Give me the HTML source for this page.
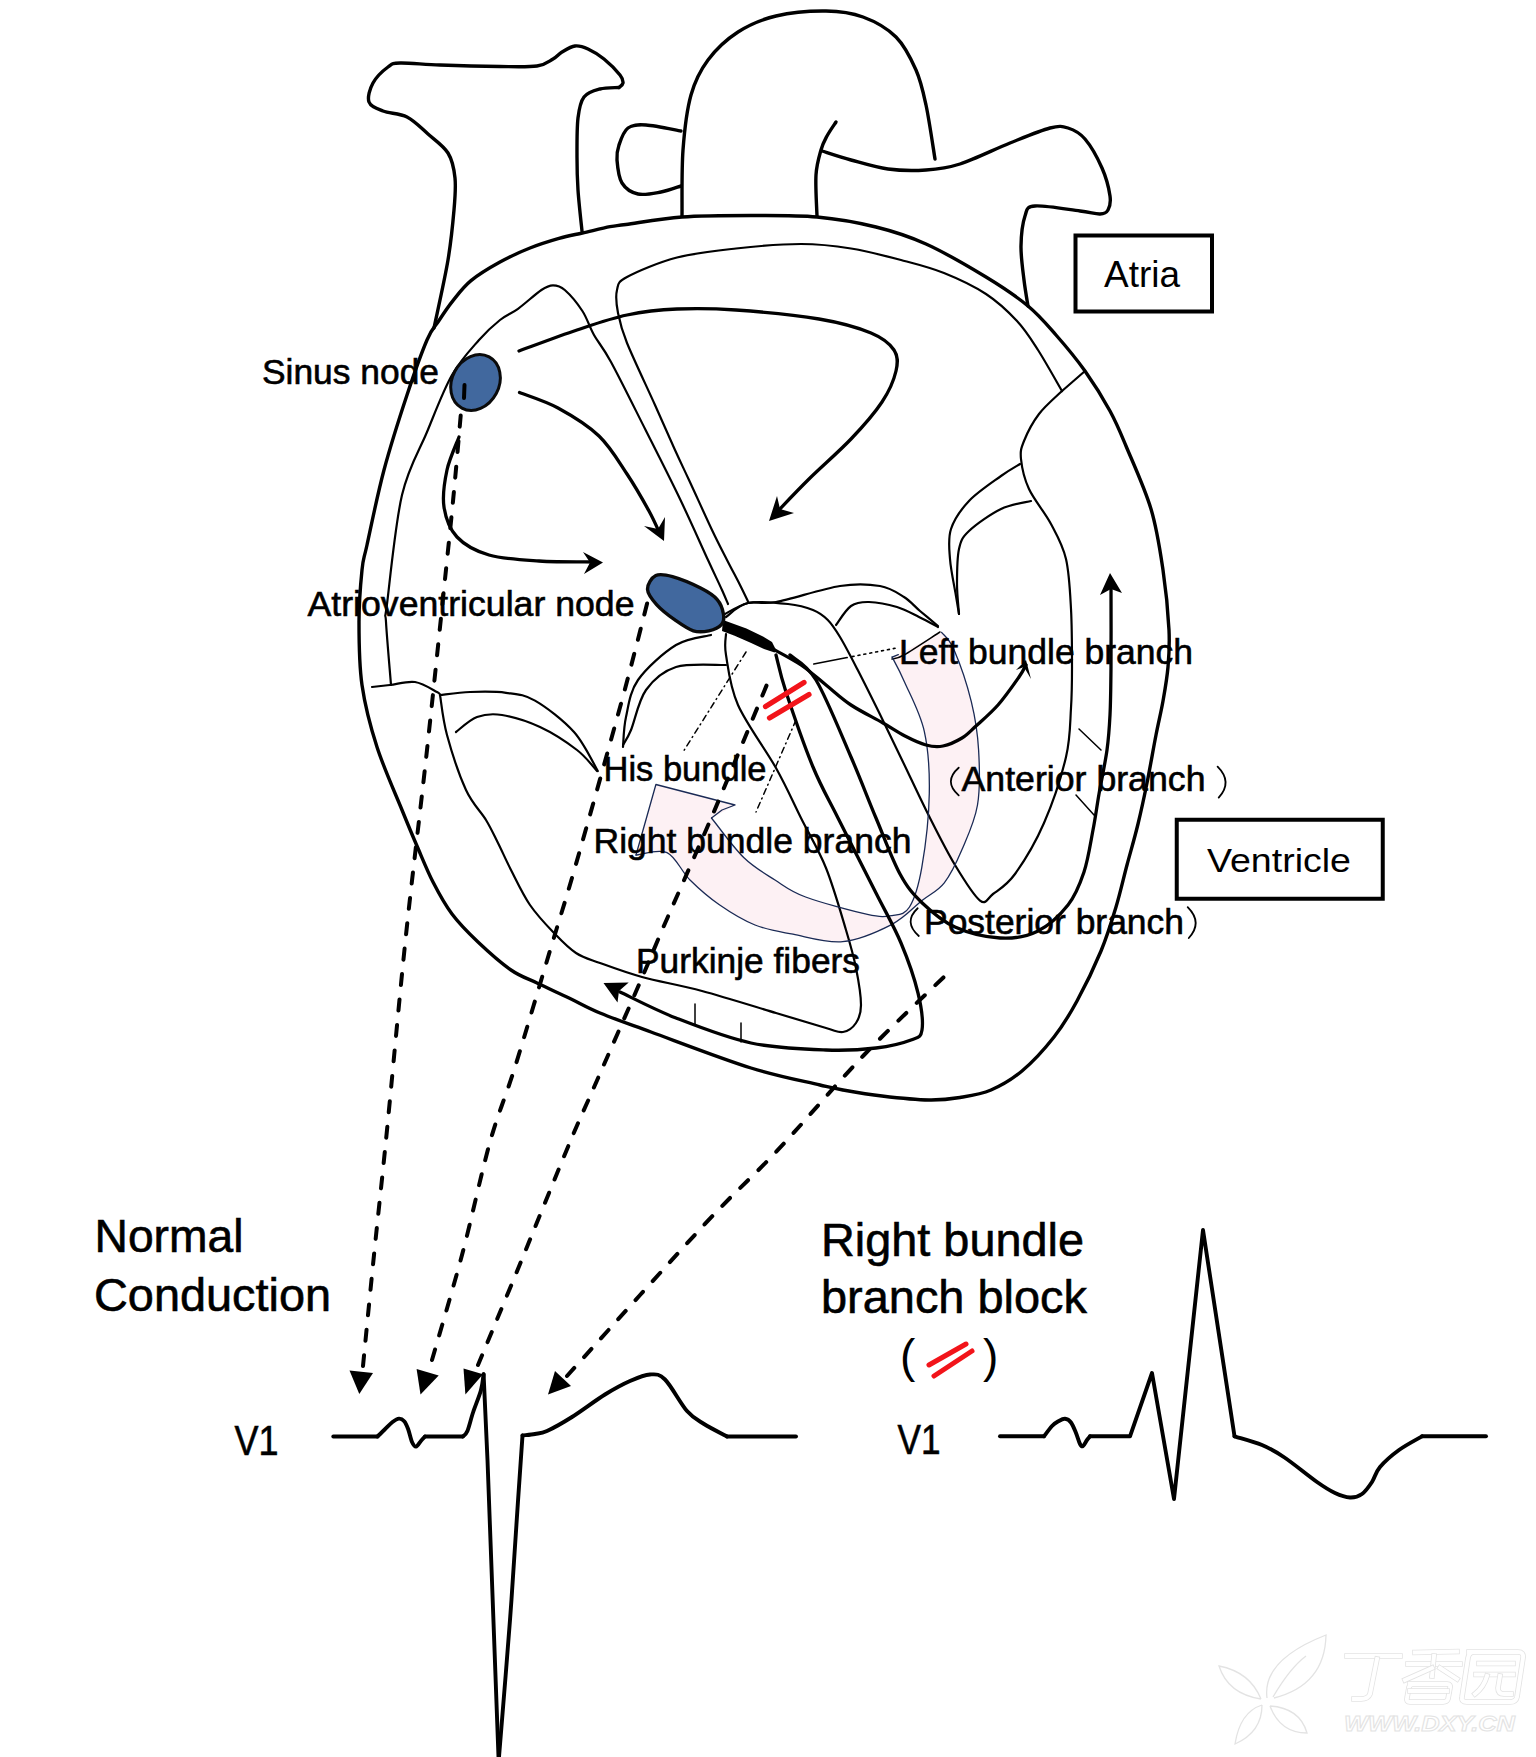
<!DOCTYPE html>
<html><head><meta charset="utf-8"><style>
html,body{margin:0;padding:0;background:#fff;}
body{width:1536px;height:1757px;overflow:hidden;}
svg{display:block;}
text{font-family:"Liberation Sans",sans-serif;fill:#000;}
</style></head><body>
<svg width="1536" height="1757" viewBox="0 0 1536 1757">
<path d="M636.0 855.0 C641.2 854.6 658.0 848.4 667.0 852.6 C676.0 856.8 681.3 871.4 690.0 880.0 C698.7 888.6 708.2 897.0 719.0 904.5 C729.8 912.0 742.7 920.0 755.0 925.0 C767.3 930.0 778.4 931.4 793.0 934.2 C807.6 937.0 826.2 943.2 842.7 941.6 C859.2 940.0 878.8 931.1 892.0 924.3 C905.2 917.4 913.3 907.4 922.0 900.5 C930.7 893.6 937.6 891.3 944.3 882.8 C951.0 874.3 956.5 862.6 962.0 849.6 C967.5 836.6 974.7 821.6 977.5 805.0 C980.3 788.4 979.6 767.2 978.6 750.0 C977.6 732.8 975.4 718.3 971.3 701.6 C967.2 684.9 959.0 661.2 954.0 649.7 C949.0 638.2 943.7 635.3 941.6 632.4 L892.1 657.1 C894.2 661.2 899.1 669.5 904.5 681.9 C909.9 694.3 920.2 712.8 924.3 731.3 C928.4 749.8 929.7 770.5 929.3 793.2 C928.9 815.9 925.1 848.4 921.8 867.4 C918.5 886.4 914.5 899.0 909.5 907.0 C904.5 915.0 899.0 914.4 892.0 915.6 C885.0 916.8 881.8 917.5 867.4 914.4 C853.0 911.3 821.0 902.7 805.6 897.0 C790.2 891.3 785.3 886.6 775.0 880.0 C764.7 873.4 754.3 867.8 743.7 857.5 C733.1 847.2 716.9 824.6 711.5 818.0 Z" fill="#fdf1f4"/>
<path d="M655.9 784.5 L736 805 L711.5 818 L690 830 L636 855 Z" fill="#fdf1f4"/>
<path d="M582.0 231.0 C581.3 224.2 578.8 202.3 578.0 190.0 C577.2 177.7 577.0 169.0 577.0 157.0 C577.0 145.0 576.8 128.0 578.0 118.0 C579.2 108.0 580.3 101.8 584.0 97.0 C587.7 92.2 594.2 90.6 600.0 89.0 C605.8 87.4 615.8 87.8 619.0 87.5" fill="none" stroke="#000" stroke-width="3.4" stroke-linecap="round" stroke-linejoin="round" />
<path d="M619.0 87.5 C619.7 86.8 622.8 85.1 623.0 83.0 C623.2 80.9 623.2 79.0 620.0 75.0 C616.8 71.0 609.3 63.3 604.0 59.0 C598.7 54.7 592.8 51.2 588.0 49.0 C583.2 46.8 579.3 45.5 575.0 46.0 C570.7 46.5 565.7 49.8 562.0 52.0 C558.3 54.2 557.2 56.7 553.0 59.0 C548.8 61.3 545.8 64.8 537.0 66.0 C528.2 67.2 516.2 66.7 500.0 66.5 C483.8 66.3 456.7 65.6 440.0 65.0 C423.3 64.4 408.7 62.7 400.0 63.0 C391.3 63.3 392.5 63.7 388.0 67.0 C383.5 70.3 376.2 77.2 373.0 83.0 C369.8 88.8 367.3 97.3 369.0 102.0 C370.7 106.7 376.7 108.5 383.0 111.0 C389.3 113.5 399.5 113.2 407.0 117.0 C414.5 120.8 421.2 128.0 428.0 134.0 C434.8 140.0 443.5 145.7 448.0 153.0 C452.5 160.3 454.0 168.5 455.0 178.0 C456.0 187.5 455.2 196.3 454.0 210.0 C452.8 223.7 451.3 240.3 448.0 260.0 C444.7 279.7 436.3 316.7 434.0 328.0" fill="none" stroke="#000" stroke-width="3.4" stroke-linecap="round" stroke-linejoin="round" />
<path d="M682.0 216.0 C682.2 205.0 681.5 170.2 683.0 150.0 C684.5 129.8 686.8 110.0 691.0 95.0 C695.2 80.0 700.2 70.5 708.0 60.0 C715.8 49.5 726.7 39.3 738.0 32.0 C749.3 24.7 761.3 19.5 776.0 16.0 C790.7 12.5 811.5 10.8 826.0 11.0 C840.5 11.2 851.3 12.7 863.0 17.0 C874.7 21.3 887.2 28.2 896.0 37.0 C904.8 45.8 911.0 58.7 916.0 70.0 C921.0 81.3 922.8 90.2 926.0 105.0 C929.2 119.8 933.5 150.0 935.0 159.0" fill="none" stroke="#000" stroke-width="3.4" stroke-linecap="round" stroke-linejoin="round" />
<path d="M836.0 122.0 C834.5 124.3 829.5 131.3 827.0 136.0 C824.5 140.7 822.8 143.5 821.0 150.0 C819.2 156.5 816.7 164.0 816.0 175.0 C815.3 186.0 816.8 209.2 817.0 216.0" fill="none" stroke="#000" stroke-width="3.4" stroke-linecap="round" stroke-linejoin="round" />
<path d="M822.0 151.0 C826.8 152.5 840.0 157.0 851.0 160.0 C862.0 163.0 875.5 167.3 888.0 169.0 C900.5 170.7 914.0 170.8 926.0 170.0 C938.0 169.2 946.0 168.5 960.0 164.0 C974.0 159.5 995.0 149.0 1010.0 143.0 C1025.0 137.0 1040.3 130.5 1050.0 128.0 C1059.7 125.5 1062.2 126.2 1068.0 128.0 C1073.8 129.8 1079.3 132.3 1085.0 139.0 C1090.7 145.7 1097.8 158.5 1102.0 168.0 C1106.2 177.5 1109.0 189.0 1110.0 196.0 C1111.0 203.0 1109.7 207.0 1108.0 210.0 C1106.3 213.0 1104.7 213.8 1100.0 214.0 C1095.3 214.2 1090.8 212.3 1080.0 211.0 C1069.2 209.7 1044.2 205.2 1035.0 206.0 C1025.8 206.8 1027.3 209.3 1025.0 216.0 C1022.7 222.7 1021.2 235.3 1021.0 246.0 C1020.8 256.7 1022.8 270.0 1024.0 280.0 C1025.2 290.0 1027.3 301.7 1028.0 306.0" fill="none" stroke="#000" stroke-width="3.4" stroke-linecap="round" stroke-linejoin="round" />
<path d="M681.0 131.0 C675.2 130.0 654.8 125.5 646.0 125.0 C637.2 124.5 632.5 124.7 628.0 128.0 C623.5 131.3 620.8 139.7 619.0 145.0 C617.2 150.3 616.5 153.7 617.0 160.0 C617.5 166.3 618.5 177.3 622.0 183.0 C625.5 188.7 631.5 192.5 638.0 194.0 C644.5 195.5 653.8 193.3 661.0 192.0 C668.2 190.7 677.7 187.0 681.0 186.0" fill="none" stroke="#000" stroke-width="3.4" stroke-linecap="round" stroke-linejoin="round" />
<path d="M453.0 300.6 C458.3 294.0 463.2 287.0 471.0 280.6 C478.8 274.2 490.2 267.4 500.0 262.0 C509.8 256.6 520.2 251.9 530.0 248.0 C539.8 244.1 550.3 240.9 559.0 238.4 C567.7 235.9 573.9 234.9 582.4 233.0 C590.9 231.1 602.7 228.1 610.0 226.7 C617.3 225.3 614.0 226.1 626.0 224.5 C638.0 222.9 661.2 218.5 682.0 217.0 C702.8 215.5 728.5 215.5 751.0 215.5 C773.5 215.5 796.2 215.1 817.0 217.0 C837.8 218.9 857.8 222.5 876.0 227.0 C894.2 231.5 907.7 235.7 926.0 244.0 C944.3 252.3 969.0 266.7 986.0 277.0 C1003.0 287.3 1016.3 296.3 1028.0 306.0 C1039.7 315.7 1046.5 324.2 1056.0 335.0 C1065.5 345.8 1076.0 358.3 1085.0 371.0 C1094.0 383.7 1103.2 398.5 1110.0 411.0 C1116.8 423.5 1119.2 429.7 1126.0 446.0 C1132.8 462.3 1144.8 488.3 1151.0 509.0 C1157.2 529.7 1160.0 549.8 1163.0 570.0 C1166.0 590.2 1168.2 613.8 1169.0 630.0 C1169.8 646.2 1169.0 655.2 1168.0 667.0 C1167.0 678.8 1165.0 689.7 1163.0 701.0 C1161.0 712.3 1158.7 721.3 1156.0 735.0 C1153.3 748.7 1150.0 768.2 1147.0 783.0 C1144.0 797.8 1141.3 810.3 1138.0 824.0 C1134.7 837.7 1130.7 851.2 1127.0 865.0 C1123.3 878.8 1120.3 892.7 1116.0 907.0 C1111.7 921.3 1107.5 935.3 1101.0 951.0 C1094.5 966.7 1084.8 986.7 1077.0 1001.0 C1069.2 1015.3 1063.2 1025.3 1054.0 1037.0 C1044.8 1048.7 1032.5 1062.2 1022.0 1071.0 C1011.5 1079.8 1001.3 1085.6 991.0 1090.0 C980.7 1094.4 970.3 1095.8 960.0 1097.5 C949.7 1099.2 942.0 1100.2 929.0 1100.0 C916.0 1099.8 896.3 1097.7 882.0 1096.0 C867.7 1094.3 853.3 1091.8 843.0 1090.0 C832.7 1088.2 835.3 1088.7 820.0 1085.0 C804.7 1081.3 779.2 1076.8 751.0 1068.0 C722.8 1059.2 676.2 1041.2 651.0 1032.0 C625.8 1022.8 613.7 1018.7 600.0 1013.0 C586.3 1007.3 579.5 1003.0 569.0 998.0 C558.5 993.0 546.7 987.7 537.0 983.0 C527.3 978.3 520.8 976.8 511.0 970.0 C501.2 963.2 487.8 951.3 478.0 942.0 C468.2 932.7 459.5 924.0 452.0 914.0 C444.5 904.0 438.8 893.3 433.0 882.0 C427.2 870.7 422.2 858.0 417.0 846.0 C411.8 834.0 408.7 826.5 402.0 810.0 C395.3 793.5 383.7 767.8 377.0 747.0 C370.3 726.2 365.0 705.8 362.0 685.0 C359.0 664.2 359.0 641.2 359.0 622.0 C359.0 602.8 360.7 582.8 362.0 570.0 C363.3 557.2 363.3 561.7 367.0 545.0 C370.7 528.3 377.3 495.0 384.0 470.0 C390.7 445.0 399.8 416.7 407.0 395.0 C414.2 373.3 421.7 352.4 427.0 340.0 C432.3 327.6 434.7 327.1 439.0 320.5 C443.3 313.9 447.7 307.2 453.0 300.6Z" fill="none" stroke="#000" stroke-width="3.4" stroke-linecap="round" stroke-linejoin="round" />
<path d="M519.0 351.0 C528.7 347.5 559.0 336.0 577.0 330.0 C595.0 324.0 610.3 318.5 627.0 315.0 C643.7 311.5 658.8 309.8 677.0 309.0 C695.2 308.2 712.3 308.3 736.0 310.0 C759.7 311.7 796.5 315.2 819.0 319.0 C841.5 322.8 858.5 327.8 871.0 333.0 C883.5 338.2 889.8 343.7 894.0 350.0 C898.2 356.3 898.0 362.3 896.0 371.0 C894.0 379.7 889.5 390.7 882.0 402.0 C874.5 413.3 863.2 426.2 851.0 439.0 C838.8 451.8 821.5 466.7 809.0 479.0 C796.5 491.3 781.5 507.3 776.0 513.0" fill="none" stroke="#000" stroke-width="3.3" stroke-linecap="round" stroke-linejoin="round" />
<path d="M769.0 521.0 L777.0 496.0 L780.0 509.0 L794.0 513.0Z" fill="#000"/>
<path d="M519.5 392.5 C525.9 395.1 544.8 400.8 558.0 408.0 C571.2 415.2 587.5 425.0 599.0 436.0 C610.5 447.0 618.7 461.5 627.0 474.0 C635.3 486.5 643.5 501.0 649.0 511.0 C654.5 521.0 658.2 530.2 660.0 534.0" fill="none" stroke="#000" stroke-width="3.3" stroke-linecap="round" stroke-linejoin="round" />
<path d="M664.0 541.0 L644.0 526.0 L658.0 529.0 L665.0 517.0Z" fill="#000"/>
<path d="M459.0 437.0 C457.0 442.5 449.5 458.3 447.0 470.0 C444.5 481.7 442.3 495.8 444.0 507.0 C445.7 518.2 449.5 529.0 457.0 537.0 C464.5 545.0 475.3 551.0 489.0 555.0 C502.7 559.0 521.0 559.8 539.0 561.0 C557.0 562.2 587.3 561.8 597.0 562.0" fill="none" stroke="#000" stroke-width="3.3" stroke-linecap="round" stroke-linejoin="round" />
<path d="M603.0 562.5 L583.0 552.0 L590.0 562.5 L584.0 574.0Z" fill="#000"/>
<path d="M748.5 602.5 C747.1 599.6 743.6 592.1 740.0 585.0 C736.4 577.9 731.7 569.2 727.0 560.0 C722.3 550.8 718.3 543.3 712.0 530.0 C705.7 516.7 695.2 493.3 689.0 480.0 C682.8 466.7 680.7 462.5 675.0 450.0 C669.3 437.5 663.0 422.8 655.0 405.0 C647.0 387.2 633.2 358.3 627.0 343.0 C620.8 327.7 619.7 321.8 618.0 313.0 C616.3 304.2 615.5 296.0 617.0 290.0 C618.5 284.0 617.0 282.4 627.0 277.0 C637.0 271.6 658.8 262.2 677.0 257.5 C695.2 252.8 715.3 250.8 736.0 248.5 C756.7 246.2 781.8 244.0 801.0 244.0 C820.2 244.0 834.3 245.8 851.0 248.5 C867.7 251.2 885.5 255.9 901.0 260.0 C916.5 264.1 929.8 267.3 944.0 273.0 C958.2 278.7 973.8 286.0 986.0 294.0 C998.2 302.0 1008.3 311.7 1017.0 321.0 C1025.7 330.3 1030.5 338.3 1038.0 350.0 C1045.5 361.7 1058.0 384.2 1062.0 391.0" fill="none" stroke="#000" stroke-width="2.2" stroke-linecap="round" stroke-linejoin="round" />
<path d="M1085.0 371.0 C1081.2 374.3 1065.8 387.7 1062.0 391.0" fill="none" stroke="#000" stroke-width="2.2" stroke-linecap="round" stroke-linejoin="round" />
<path d="M1062.0 391.0 C1058.2 394.8 1045.3 405.7 1039.0 414.0 C1032.7 422.3 1027.0 433.5 1024.0 441.0 C1021.0 448.5 1020.2 451.0 1021.0 459.0 C1021.8 467.0 1024.0 478.2 1029.0 489.0 C1034.0 499.8 1044.8 512.3 1051.0 524.0 C1057.2 535.7 1062.7 544.8 1066.0 559.0 C1069.3 573.2 1070.0 591.0 1071.0 609.0 C1072.0 627.0 1072.0 650.5 1072.0 667.0 C1072.0 683.5 1072.0 693.0 1071.0 708.0 C1070.0 723.0 1070.5 737.8 1066.0 757.0 C1061.5 776.2 1052.5 803.5 1044.0 823.0 C1035.5 842.5 1023.5 862.2 1015.0 874.0 C1006.5 885.8 998.8 889.6 993.0 894.0 C987.2 898.4 986.3 905.3 980.0 900.5 C973.7 895.7 963.5 879.1 955.0 865.0 C946.5 850.9 937.7 833.2 929.0 816.0 C920.3 798.8 911.2 779.0 903.0 762.0 C894.8 745.0 887.4 729.4 879.8 714.0 C872.2 698.6 864.1 682.3 857.5 669.5 C850.9 656.7 845.0 645.2 840.0 637.0 C835.0 628.8 832.3 624.5 827.8 620.0 C823.3 615.5 819.6 612.7 813.0 610.0 C806.4 607.3 798.8 605.2 788.0 604.0 C777.2 602.8 758.3 600.8 748.0 603.0 C737.7 605.2 729.7 614.7 726.0 617.0" fill="none" stroke="#000" stroke-width="2.2" stroke-linecap="round" stroke-linejoin="round" />
<path d="M1020.0 464.0 C1016.8 466.0 1009.5 469.8 1001.0 476.0 C992.5 482.2 977.3 492.2 969.0 501.0 C960.7 509.8 954.2 519.3 951.0 529.0 C947.8 538.7 949.2 547.8 950.0 559.0 C950.8 570.2 954.5 586.8 956.0 596.0 C957.5 605.2 958.5 611.0 959.0 614.0" fill="none" stroke="#000" stroke-width="2.2" stroke-linecap="round" stroke-linejoin="round" />
<path d="M1031.0 501.0 C1026.0 502.3 1011.3 504.0 1001.0 509.0 C990.7 514.0 976.0 524.3 969.0 531.0 C962.0 537.7 961.0 540.2 959.0 549.0 C957.0 557.8 957.0 573.2 957.0 584.0 C957.0 594.8 958.7 609.0 959.0 614.0" fill="none" stroke="#000" stroke-width="2.2" stroke-linecap="round" stroke-linejoin="round" />
<path d="M391.0 685.0 C390.2 674.5 386.7 635.5 386.0 622.0 C385.3 608.5 384.3 625.2 387.0 604.0 C389.7 582.8 395.3 523.7 402.0 495.0 C408.7 466.3 418.7 452.0 427.0 432.0 C435.3 412.0 443.3 390.3 452.0 375.0 C460.7 359.7 471.0 349.2 479.0 340.0 C487.0 330.8 493.5 325.2 500.0 320.0 C506.5 314.8 511.1 313.8 518.0 308.8 C524.9 303.8 535.6 293.9 541.4 290.0 C547.2 286.1 549.1 285.3 553.0 285.3 C556.9 285.3 559.9 285.7 564.8 290.0 C569.7 294.3 577.5 303.5 582.4 311.0 C587.3 318.5 589.2 326.5 594.0 335.0 C598.8 343.5 602.4 346.2 611.0 362.0 C619.6 377.8 634.1 407.2 645.6 430.0 C657.1 452.8 669.6 477.3 680.0 499.0 C690.4 520.7 701.0 544.8 708.0 560.0 C715.0 575.2 718.7 582.7 722.0 590.0 C725.3 597.3 727.0 601.7 728.0 604.0" fill="none" stroke="#000" stroke-width="2.2" stroke-linecap="round" stroke-linejoin="round" />
<path d="M372.0 687.0 C375.0 686.7 382.8 685.8 390.0 685.0 C397.2 684.2 407.2 680.8 415.0 682.0 C422.8 683.2 432.8 689.8 437.0 692.0 C441.2 694.2 439.5 694.5 440.0 695.0" fill="none" stroke="#000" stroke-width="2.2" stroke-linecap="round" stroke-linejoin="round" />
<path d="M440.0 695.0 C441.2 701.7 442.7 719.2 447.0 735.0 C451.3 750.8 459.5 775.8 466.0 790.0 C472.5 804.2 480.7 811.2 486.0 820.0 C491.3 828.8 493.8 834.7 498.0 843.0 C502.2 851.3 505.7 859.7 511.0 870.0 C516.3 880.3 522.8 894.5 530.0 905.0 C537.2 915.5 546.3 925.0 554.0 933.0 C561.7 941.0 568.3 948.0 576.0 953.0 C583.7 958.0 589.0 959.0 600.0 963.0 C611.0 967.0 625.0 972.3 642.0 977.0 C659.0 981.7 679.7 985.0 702.0 991.0 C724.3 997.0 755.3 1006.8 776.0 1013.0 C796.7 1019.2 814.8 1024.8 826.0 1028.0 C837.2 1031.2 838.0 1032.8 843.0 1032.0 C848.0 1031.2 853.0 1027.5 856.0 1023.0 C859.0 1018.5 861.0 1014.2 861.0 1005.0 C861.0 995.8 858.5 980.5 856.0 968.0 C853.5 955.5 851.0 946.7 846.0 930.0 C841.0 913.3 833.5 886.7 826.0 868.0 C818.5 849.3 809.3 834.7 801.0 818.0 C792.7 801.3 786.5 786.8 776.0 768.0 C765.5 749.2 746.3 723.8 738.0 705.0 C729.7 686.2 728.0 666.8 726.0 655.0 C724.0 643.2 726.0 637.5 726.0 634.0" fill="none" stroke="#000" stroke-width="2.2" stroke-linecap="round" stroke-linejoin="round" />
<path d="M440.0 695.0 C445.0 694.5 459.0 692.4 470.0 692.0 C481.0 691.6 495.2 691.3 506.0 692.8 C516.8 694.2 523.7 694.1 535.0 700.6 C546.3 707.1 563.5 720.3 574.0 732.0 C584.5 743.7 593.8 764.5 597.8 771.0" fill="none" stroke="#000" stroke-width="2.2" stroke-linecap="round" stroke-linejoin="round" />
<path d="M456.0 732.0 C459.5 729.5 469.3 719.8 477.0 717.0 C484.7 714.2 491.5 713.3 502.0 715.0 C512.5 716.7 527.5 721.2 540.0 727.0 C552.5 732.8 567.5 742.7 577.0 750.0 C586.5 757.3 593.7 767.5 597.0 771.0" fill="none" stroke="#000" stroke-width="2.2" stroke-linecap="round" stroke-linejoin="round" />
<path d="M711.0 635.0 C705.2 636.7 688.2 637.5 676.0 645.0 C663.8 652.5 646.3 668.0 638.0 680.0 C629.7 692.0 628.5 705.8 626.0 717.0 C623.5 728.2 623.5 742.0 623.0 747.0" fill="none" stroke="#000" stroke-width="2.2" stroke-linecap="round" stroke-linejoin="round" />
<path d="M726.0 665.0 C717.7 665.3 689.3 662.8 676.0 667.0 C662.7 671.2 653.5 679.5 646.0 690.0 C638.5 700.5 634.8 720.8 631.0 730.0 C627.2 739.2 624.3 742.5 623.0 745.0" fill="none" stroke="#000" stroke-width="2.2" stroke-linecap="round" stroke-linejoin="round" />
<path d="M723.0 615.0 C727.2 613.0 739.2 605.2 748.0 603.0 C756.8 600.8 760.7 604.8 776.0 602.0 C791.3 599.2 822.7 588.7 840.0 586.0 C857.3 583.3 869.3 584.2 880.0 586.0 C890.7 587.8 897.3 592.8 904.0 597.0 C910.7 601.2 914.3 606.2 920.0 611.0 C925.7 615.8 935.0 623.5 938.0 626.0" fill="none" stroke="#000" stroke-width="2.2" stroke-linecap="round" stroke-linejoin="round" />
<path d="M836.0 625.0 C838.5 621.8 845.5 609.8 851.0 606.0 C856.5 602.2 861.3 601.8 869.0 602.0 C876.7 602.2 888.7 604.5 897.0 607.0 C905.3 609.5 912.2 613.7 919.0 617.0 C925.8 620.3 934.8 625.3 938.0 627.0" fill="none" stroke="#000" stroke-width="2.2" stroke-linecap="round" stroke-linejoin="round" />
<path d="M940.0 632.0 C934.0 635.8 912.0 650.5 904.0 655.0 C896.0 659.5 894.0 658.3 892.0 659.0" fill="none" stroke="#000" stroke-width="1.5" stroke-linecap="round" stroke-linejoin="round" />
<path d="M695.0 1004.0 L695.0 1024.0" fill="none" stroke="#000" stroke-width="1.5" stroke-linecap="round" stroke-linejoin="round" />
<path d="M741.0 1023.0 L741.0 1042.0" fill="none" stroke="#000" stroke-width="1.5" stroke-linecap="round" stroke-linejoin="round" />
<path d="M1079.0 729.0 L1101.0 750.0" fill="none" stroke="#000" stroke-width="1.5" stroke-linecap="round" stroke-linejoin="round" />
<path d="M1076.0 795.0 L1094.0 815.0" fill="none" stroke="#000" stroke-width="1.5" stroke-linecap="round" stroke-linejoin="round" />
<path d="M636.0 855.0 C641.2 854.6 658.0 848.4 667.0 852.6 C676.0 856.8 681.3 871.4 690.0 880.0 C698.7 888.6 708.2 897.0 719.0 904.5 C729.8 912.0 742.7 920.0 755.0 925.0 C767.3 930.0 778.4 931.4 793.0 934.2 C807.6 937.0 826.2 943.2 842.7 941.6 C859.2 940.0 878.8 931.1 892.0 924.3 C905.2 917.4 913.3 907.4 922.0 900.5 C930.7 893.6 937.6 891.3 944.3 882.8 C951.0 874.3 956.5 862.6 962.0 849.6 C967.5 836.6 974.7 821.6 977.5 805.0 C980.3 788.4 979.6 767.2 978.6 750.0 C977.6 732.8 975.4 718.3 971.3 701.6 C967.2 684.9 959.0 661.2 954.0 649.7 C949.0 638.2 943.7 635.3 941.6 632.4" fill="none" stroke="#1a2a55" stroke-width="1.3" stroke-linecap="round" stroke-linejoin="round" />
<path d="M711.5 818.0 C716.9 824.6 733.1 847.2 743.7 857.5 C754.3 867.8 764.7 873.4 775.0 880.0 C785.3 886.6 790.2 891.3 805.6 897.0 C821.0 902.7 853.0 911.3 867.4 914.4 C881.8 917.5 885.0 916.8 892.0 915.6 C899.0 914.4 904.5 915.0 909.5 907.0 C914.5 899.0 918.5 886.4 921.8 867.4 C925.1 848.4 928.9 815.9 929.3 793.2 C929.7 770.5 928.4 749.8 924.3 731.3 C920.2 712.8 909.9 694.3 904.5 681.9 C899.1 669.5 894.2 661.2 892.1 657.1" fill="none" stroke="#1a2a55" stroke-width="1.3" stroke-linecap="round" stroke-linejoin="round" />
<path d="M892.1 657.1 L898.3 654.6" fill="none" stroke="#1a2a55" stroke-width="1.3" stroke-linecap="round" stroke-linejoin="round" />
<path d="M636.0 855.0 L655.9 784.5 L735.0 805.0 L722.0 810.0 L711.5 818.0" fill="none" stroke="#1a2a55" stroke-width="1.3" stroke-linecap="round" stroke-linejoin="round" />
<path d="M813.8 664.0 L895.0 648.3" fill="none" stroke="#000" stroke-width="1.6" stroke-linecap="round" stroke-linejoin="round" stroke-dasharray="34 5 2 4 2 4 2 4 2 4 2 4 2 4 2 4 2 4 2 4"/>
<path d="M746.0 652.0 L683.0 752.0" fill="none" stroke="#000" stroke-width="1.5" stroke-linecap="round" stroke-linejoin="round" stroke-dasharray="6 4 1 4"/>
<path d="M796.0 720.0 L756.0 812.0" fill="none" stroke="#000" stroke-width="1.5" stroke-linecap="round" stroke-linejoin="round" stroke-dasharray="6 4 1 4"/>
<path d="M723.0 620.0 L746.4 628.5 L763.0 636.5 L772.0 642.0 L776.0 650.0 L774.6 652.5 L764.0 649.0 L750.6 642.8 L734.0 635.5 L722.0 631.0Z" fill="#000"/>
<path d="M771.0 648.0 C776.0 650.8 791.8 658.8 801.0 665.0 C810.2 671.2 817.7 678.3 826.0 685.0 C834.3 691.7 841.5 698.7 851.0 705.0 C860.5 711.3 874.0 717.8 883.0 723.0 C892.0 728.2 897.8 732.3 905.0 736.0 C912.2 739.7 919.7 743.3 926.0 745.0 C932.3 746.7 937.0 747.2 943.0 746.0 C949.0 744.8 956.5 741.3 962.0 738.0 C967.5 734.7 970.0 731.5 976.0 726.0 C982.0 720.5 990.8 713.2 998.0 705.0 C1005.2 696.8 1014.3 683.7 1019.0 677.0 C1023.7 670.3 1024.8 667.0 1026.0 665.0" fill="none" stroke="#000" stroke-width="3.3" stroke-linecap="round" stroke-linejoin="round" />
<path d="M1026.0 660.0 L1016.0 670.0 L1024.0 667.0 L1031.0 679.0Z" fill="#000"/>
<path d="M776.0 655.0 C777.7 661.2 779.8 673.3 786.0 692.0 C792.2 710.7 804.3 746.0 813.0 767.0 C821.7 788.0 827.5 797.0 838.0 818.0 C848.5 839.0 865.5 872.2 876.0 893.0 C886.5 913.8 894.0 926.3 901.0 943.0 C908.0 959.7 914.5 978.5 918.0 993.0 C921.5 1007.5 923.2 1022.2 922.0 1030.0 C920.8 1037.8 918.7 1037.0 911.0 1040.0 C903.3 1043.0 890.2 1046.3 876.0 1048.0 C861.8 1049.7 846.8 1050.8 826.0 1050.0 C805.2 1049.2 776.0 1048.3 751.0 1043.0 C726.0 1037.7 697.8 1026.5 676.0 1018.0 C654.2 1009.5 629.3 996.3 620.0 992.0" fill="none" stroke="#000" stroke-width="3.3" stroke-linecap="round" stroke-linejoin="round" />
<path d="M603.5 983.0 L628.7 982.5 L619.0 991.0 L617.5 1002.5Z" fill="#000"/>
<path d="M790.0 655.0 C794.3 659.2 805.8 663.0 816.0 680.0 C826.2 697.0 841.0 734.0 851.0 757.0 C861.0 780.0 867.8 798.5 876.0 818.0 C884.2 837.5 892.3 859.9 900.0 874.0 C907.7 888.1 912.8 893.9 922.0 902.7 C931.2 911.5 942.0 921.1 955.0 927.0 C968.0 932.9 986.3 937.2 1000.0 938.0 C1013.7 938.8 1025.7 937.0 1037.0 931.5 C1048.3 926.0 1060.2 914.9 1068.0 905.0 C1075.8 895.1 1079.8 884.5 1084.0 872.0 C1088.2 859.5 1090.5 843.0 1093.0 830.0 C1095.5 817.0 1096.7 807.3 1099.0 794.0 C1101.3 780.7 1105.2 763.2 1107.0 750.0 C1108.8 736.8 1109.3 728.8 1110.0 715.0 C1110.7 701.2 1110.8 688.5 1111.0 667.0 C1111.2 645.5 1111.0 599.5 1111.0 586.0" fill="none" stroke="#000" stroke-width="3.3" stroke-linecap="round" stroke-linejoin="round" />
<path d="M1110.0 573.0 L1100.0 595.0 L1111.0 589.0 L1122.0 593.0Z" fill="#000"/>
<ellipse cx="475.5" cy="382.5" rx="23.5" ry="29" transform="rotate(28 475.5 382.5)" fill="#41689e" stroke="#0a0a0a" stroke-width="3"/>
<path d="M464.5 385.0 L464.0 398.0" fill="none" stroke="#000" stroke-width="4" stroke-linecap="round" stroke-linejoin="round" />
<path d="M655.8 575.6 C660.0 573.5 665.0 574.6 672.5 576.7 C680.0 578.8 693.1 584.3 700.6 588.1 C708.1 591.9 713.4 595.2 717.2 599.6 C721.1 604.0 722.8 610.0 723.5 614.2 C724.2 618.4 723.8 621.8 721.4 624.6 C719.0 627.4 713.6 629.8 708.9 630.8 C704.2 631.8 698.8 632.5 693.3 630.8 C687.8 629.1 681.7 624.7 675.6 620.4 C669.5 616.1 661.5 610.0 656.8 604.8 C652.1 599.6 647.7 594.1 647.5 589.2 C647.3 584.3 651.6 577.7 655.8 575.6Z" fill="#41689e" stroke="#0a0a0a" stroke-width="3.4"/>
<path d="M765.5 706.5 L804.0 682.5" fill="none" stroke="#f2141a" stroke-width="5.2" stroke-linecap="round" stroke-linejoin="round" />
<path d="M769.5 718.0 L809.0 694.5" fill="none" stroke="#f2141a" stroke-width="5.2" stroke-linecap="round" stroke-linejoin="round" />
<path d="M363.0 1366.0 C364.8 1347.5 370.0 1294.3 374.0 1255.0 C378.0 1215.7 381.7 1183.3 387.0 1130.0 C392.3 1076.7 399.3 998.3 406.0 935.0 C412.7 871.7 420.2 812.5 427.0 750.0 C433.8 687.5 442.3 605.0 447.0 560.0 C451.7 515.0 452.7 504.7 455.0 480.0 C457.3 455.3 460.0 423.3 461.0 412.0" fill="none" stroke="#000" stroke-width="4" stroke-linecap="round" stroke-linejoin="round" stroke-dasharray="11.01 14.51"/>
<path d="M349.5 1370.4 L373.0 1373.0 L359.3 1394.0Z" fill="#000"/>
<path d="M432.0 1360.0 C437.0 1342.5 452.3 1291.3 462.0 1255.0 C471.7 1218.7 481.2 1173.3 490.0 1142.0 C498.8 1110.7 504.7 1100.0 515.0 1067.0 C525.3 1034.0 541.8 977.8 552.0 944.0 C562.2 910.2 564.3 904.7 576.0 864.0 C587.7 823.3 610.0 744.0 622.0 700.0 C634.0 656.0 643.7 616.7 648.0 600.0" fill="none" stroke="#000" stroke-width="4" stroke-linecap="round" stroke-linejoin="round" stroke-dasharray="11.20 14.64"/>
<path d="M416.6 1369.0 L438.7 1375.6 L420.5 1394.5Z" fill="#000"/>
<path d="M478.0 1365.0 C485.0 1348.2 504.7 1301.2 520.0 1264.0 C535.3 1226.8 557.5 1171.8 570.0 1142.0 C582.5 1112.2 583.2 1112.0 595.0 1085.0 C606.8 1058.0 629.7 1006.2 641.0 980.0 C652.3 953.8 653.8 949.2 663.0 928.0 C672.2 906.8 686.3 875.2 696.0 853.0 C705.7 830.8 709.0 823.5 721.0 795.0 C733.0 766.5 760.2 700.8 768.0 682.0" fill="none" stroke="#000" stroke-width="4" stroke-linecap="round" stroke-linejoin="round" stroke-dasharray="10.75 14.33"/>
<path d="M463.5 1368.5 L483.0 1374.3 L465.4 1394.5Z" fill="#000"/>
<path d="M567.0 1376.0 C589.8 1350.8 669.2 1262.3 704.0 1225.0 C738.8 1187.7 749.3 1180.3 776.0 1152.0 C802.7 1123.7 835.7 1084.5 864.0 1055.0 C892.3 1025.5 932.3 988.3 946.0 975.0" fill="none" stroke="#000" stroke-width="4" stroke-linecap="round" stroke-linejoin="round" stroke-dasharray="11.04 14.53"/>
<path d="M548.0 1394.5 L555.0 1371.0 L571.0 1386.0Z" fill="#000"/>
<path d="M333.3 1436.5 L377.5 1436.5" fill="none" stroke="#000" stroke-width="3.9" stroke-linecap="round" stroke-linejoin="round" />
<path d="M377.5 1436.5 C378.7 1435.3 382.2 1431.9 384.7 1429.5 C387.2 1427.1 390.1 1423.8 392.5 1422.0 C394.9 1420.2 397.1 1418.7 399.0 1418.6 C400.9 1418.5 402.7 1419.5 404.2 1421.2 C405.7 1422.9 406.8 1425.5 408.1 1429.0 C409.4 1432.5 410.7 1439.1 412.0 1442.0 C413.3 1444.9 414.5 1446.8 416.0 1446.6 C417.5 1446.4 419.6 1442.4 421.1 1440.7 C422.6 1439.0 424.4 1437.2 425.0 1436.5" fill="none" stroke="#000" stroke-width="3.9" stroke-linecap="round" stroke-linejoin="round" />
<path d="M425.0 1436.5 L462.8 1436.5" fill="none" stroke="#000" stroke-width="3.9" stroke-linecap="round" stroke-linejoin="round" />
<path d="M462.8 1436.5 C463.6 1435.6 465.7 1435.1 467.4 1431.0 C469.1 1426.9 470.9 1418.8 473.2 1412.0 C475.5 1405.2 479.3 1396.3 481.0 1390.0 C482.7 1383.7 483.2 1376.9 483.6 1374.3" fill="none" stroke="#000" stroke-width="3.9" stroke-linecap="round" stroke-linejoin="round" />
<path d="M483.6 1374.3 L487.5 1460.0 L498.5 1757.0" fill="none" stroke="#000" stroke-width="3.9" stroke-linecap="round" stroke-linejoin="round" />
<path d="M499.0 1757.0 C500.8 1734.2 506.8 1662.7 510.0 1620.0 C513.2 1577.3 515.9 1531.8 518.0 1501.0 C520.1 1470.2 521.8 1446.4 522.5 1435.5" fill="none" stroke="#000" stroke-width="3.9" stroke-linecap="round" stroke-linejoin="round" />
<path d="M522.5 1435.5 C524.6 1435.2 530.9 1434.8 535.0 1434.0 C539.1 1433.2 540.8 1433.8 547.0 1431.0 C553.2 1428.2 562.3 1423.1 572.0 1417.0 C581.7 1410.9 595.3 1400.5 605.0 1394.5 C614.7 1388.5 622.5 1384.3 630.0 1381.0 C637.5 1377.7 644.2 1374.8 650.0 1374.5 C655.8 1374.2 658.8 1373.4 665.0 1379.5 C671.2 1385.6 680.5 1403.6 687.0 1411.0 C693.5 1418.4 697.3 1419.8 704.0 1424.0 C710.7 1428.2 723.2 1434.4 727.0 1436.5" fill="none" stroke="#000" stroke-width="3.9" stroke-linecap="round" stroke-linejoin="round" />
<path d="M727.0 1436.5 L796.0 1436.5" fill="none" stroke="#000" stroke-width="3.9" stroke-linecap="round" stroke-linejoin="round" />
<path d="M1000.0 1436.3 L1044.0 1436.3" fill="none" stroke="#000" stroke-width="3.9" stroke-linecap="round" stroke-linejoin="round" />
<path d="M1044.0 1436.3 C1045.3 1434.6 1049.7 1428.5 1052.0 1426.0 C1054.3 1423.5 1055.8 1422.7 1058.0 1421.5 C1060.2 1420.3 1062.8 1418.6 1065.0 1418.8 C1067.2 1419.0 1069.2 1420.1 1071.0 1422.5 C1072.8 1424.9 1074.5 1429.4 1076.0 1433.0 C1077.5 1436.6 1078.8 1441.8 1080.0 1444.0 C1081.2 1446.2 1081.8 1446.7 1083.0 1446.0 C1084.2 1445.3 1085.8 1441.6 1087.0 1440.0 C1088.2 1438.4 1089.5 1436.9 1090.0 1436.3" fill="none" stroke="#000" stroke-width="3.9" stroke-linecap="round" stroke-linejoin="round" />
<path d="M1090.0 1436.3 L1130.0 1436.3 L1152.0 1373.0 L1174.0 1499.0 L1203.0 1230.0 L1234.5 1436.3" fill="none" stroke="#000" stroke-width="3.9" stroke-linecap="round" stroke-linejoin="round" />
<path d="M1234.5 1436.3 C1239.1 1437.8 1253.7 1441.5 1262.0 1445.0 C1270.3 1448.5 1275.3 1451.3 1284.5 1457.5 C1293.7 1463.7 1308.6 1476.1 1317.0 1482.0 C1325.4 1487.9 1329.5 1490.4 1335.0 1493.0 C1340.5 1495.6 1345.5 1497.3 1350.0 1497.5 C1354.5 1497.7 1358.3 1496.6 1362.0 1494.0 C1365.7 1491.4 1369.0 1486.5 1372.0 1482.0 C1375.0 1477.5 1375.5 1472.3 1380.0 1467.0 C1384.5 1461.7 1392.0 1455.1 1399.0 1450.0 C1406.0 1444.9 1418.2 1438.6 1422.0 1436.3" fill="none" stroke="#000" stroke-width="3.9" stroke-linecap="round" stroke-linejoin="round" />
<path d="M1422.0 1436.3 L1486.0 1436.3" fill="none" stroke="#000" stroke-width="3.9" stroke-linecap="round" stroke-linejoin="round" />
<path d="M929.0 1365.0 L966.0 1344.0" fill="none" stroke="#f2141a" stroke-width="5" stroke-linecap="round" stroke-linejoin="round" />
<path d="M934.0 1376.0 L972.0 1351.0" fill="none" stroke="#f2141a" stroke-width="5" stroke-linecap="round" stroke-linejoin="round" />
<path d="M1347 1656 L1400 1656" fill="none" stroke="#e3e3e3" stroke-width="5.5" stroke-linecap="square" stroke-linejoin="round"/>
<path d="M1347 1656 L1400 1656" fill="none" stroke="#fff" stroke-width="3.9" stroke-linecap="square" stroke-linejoin="round"/>
<path d="M1377 1659 L1370 1694 Q1368 1699 1361 1699 L1354 1699" fill="none" stroke="#e3e3e3" stroke-width="5.5" stroke-linecap="square" stroke-linejoin="round"/>
<path d="M1377 1659 L1370 1694 Q1368 1699 1361 1699 L1354 1699" fill="none" stroke="#fff" stroke-width="3.9" stroke-linecap="square" stroke-linejoin="round"/>
<path d="M1415 1652.5 L1457 1651.5" fill="none" stroke="#e3e3e3" stroke-width="5.5" stroke-linecap="square" stroke-linejoin="round"/>
<path d="M1415 1652.5 L1457 1651.5" fill="none" stroke="#fff" stroke-width="3.9" stroke-linecap="square" stroke-linejoin="round"/>
<path d="M1408 1664 L1460 1664" fill="none" stroke="#e3e3e3" stroke-width="5.5" stroke-linecap="square" stroke-linejoin="round"/>
<path d="M1408 1664 L1460 1664" fill="none" stroke="#fff" stroke-width="3.9" stroke-linecap="square" stroke-linejoin="round"/>
<path d="M1434 1656 L1432 1676" fill="none" stroke="#e3e3e3" stroke-width="5.5" stroke-linecap="square" stroke-linejoin="round"/>
<path d="M1434 1656 L1432 1676" fill="none" stroke="#fff" stroke-width="3.9" stroke-linecap="square" stroke-linejoin="round"/>
<path d="M1432 1668 L1405 1680" fill="none" stroke="#e3e3e3" stroke-width="5.5" stroke-linecap="square" stroke-linejoin="round"/>
<path d="M1432 1668 L1405 1680" fill="none" stroke="#fff" stroke-width="3.9" stroke-linecap="square" stroke-linejoin="round"/>
<path d="M1440 1668 L1457 1679" fill="none" stroke="#e3e3e3" stroke-width="5.5" stroke-linecap="square" stroke-linejoin="round"/>
<path d="M1440 1668 L1457 1679" fill="none" stroke="#fff" stroke-width="3.9" stroke-linecap="square" stroke-linejoin="round"/>
<path d="M1410 1684 L1447 1684 Q1451 1684 1450 1688 L1448 1699 Q1447 1702 1443 1702 L1410 1702 Q1406 1702 1407 1698 L1409 1687 Q1410 1684 1414 1684" fill="none" stroke="#e3e3e3" stroke-width="5.5" stroke-linecap="square" stroke-linejoin="round"/>
<path d="M1410 1684 L1447 1684 Q1451 1684 1450 1688 L1448 1699 Q1447 1702 1443 1702 L1410 1702 Q1406 1702 1407 1698 L1409 1687 Q1410 1684 1414 1684" fill="none" stroke="#fff" stroke-width="3.9" stroke-linecap="square" stroke-linejoin="round"/>
<path d="M1410 1691 L1447 1691" fill="none" stroke="#e3e3e3" stroke-width="5.5" stroke-linecap="square" stroke-linejoin="round"/>
<path d="M1410 1691 L1447 1691" fill="none" stroke="#fff" stroke-width="3.9" stroke-linecap="square" stroke-linejoin="round"/>
<path d="M1469 1652 L1518 1652 Q1524 1652 1523 1658 L1517 1697 Q1516 1702 1510 1702 L1467 1702 Q1461 1702 1462 1697 L1468 1658 Q1469 1652 1474 1652" fill="none" stroke="#e3e3e3" stroke-width="5.5" stroke-linecap="square" stroke-linejoin="round"/>
<path d="M1469 1652 L1518 1652 Q1524 1652 1523 1658 L1517 1697 Q1516 1702 1510 1702 L1467 1702 Q1461 1702 1462 1697 L1468 1658 Q1469 1652 1474 1652" fill="none" stroke="#fff" stroke-width="3.9" stroke-linecap="square" stroke-linejoin="round"/>
<path d="M1479 1663.5 L1513 1663.5" fill="none" stroke="#e3e3e3" stroke-width="5.5" stroke-linecap="square" stroke-linejoin="round"/>
<path d="M1479 1663.5 L1513 1663.5" fill="none" stroke="#fff" stroke-width="3.9" stroke-linecap="square" stroke-linejoin="round"/>
<path d="M1476 1674.5 L1513 1674.5" fill="none" stroke="#e3e3e3" stroke-width="5.5" stroke-linecap="square" stroke-linejoin="round"/>
<path d="M1476 1674.5 L1513 1674.5" fill="none" stroke="#fff" stroke-width="3.9" stroke-linecap="square" stroke-linejoin="round"/>
<path d="M1487 1676 Q1484 1687 1475 1694" fill="none" stroke="#e3e3e3" stroke-width="5.5" stroke-linecap="square" stroke-linejoin="round"/>
<path d="M1487 1676 Q1484 1687 1475 1694" fill="none" stroke="#fff" stroke-width="3.9" stroke-linecap="square" stroke-linejoin="round"/>
<path d="M1500 1676 L1498 1688 Q1498 1694 1504 1694 L1511 1694" fill="none" stroke="#e3e3e3" stroke-width="5.5" stroke-linecap="square" stroke-linejoin="round"/>
<path d="M1500 1676 L1498 1688 Q1498 1694 1504 1694 L1511 1694" fill="none" stroke="#fff" stroke-width="3.9" stroke-linecap="square" stroke-linejoin="round"/>
<text x="1344" y="1731" font-size="22" font-weight="bold" font-style="italic" textLength="171" lengthAdjust="spacingAndGlyphs" style="fill:#fff" stroke="#e3e3e3" stroke-width="1">WWW.DXY.CN</text>
<path d="M1267 1698 Q1262 1660 1326 1635 Q1325 1685 1274 1698" fill="none" stroke="#e3e3e3" stroke-width="1.3"/>
<path d="M1273 1697 Q1290 1668 1306 1656" fill="none" stroke="#e3e3e3" stroke-width="1.3"/>
<path d="M1261 1699 Q1250 1672 1219 1666 Q1228 1694 1261 1699" fill="none" stroke="#e3e3e3" stroke-width="1.3"/>
<path d="M1262 1705 Q1240 1712 1235 1744 Q1262 1732 1262 1705" fill="none" stroke="#e3e3e3" stroke-width="1.3"/>
<path d="M1270 1706 Q1300 1708 1307 1733 Q1280 1733 1270 1706" fill="none" stroke="#e3e3e3" stroke-width="1.3"/>
<rect x="1075.5" y="235.5" width="136.5" height="76" fill="none" stroke="#000" stroke-width="4"/>
<rect x="1176.75" y="819.75" width="206" height="79" fill="none" stroke="#000" stroke-width="4"/>
<text x="1104" y="287" font-size="36" textLength="76" lengthAdjust="spacingAndGlyphs" stroke="#000" stroke-width="0">Atria</text>
<text x="1207" y="872" font-size="34" textLength="144" lengthAdjust="spacingAndGlyphs" stroke="#000" stroke-width="0">Ventricle</text>
<text x="262" y="384" font-size="35" textLength="177" lengthAdjust="spacingAndGlyphs" stroke="#000" stroke-width="0.6">Sinus node</text>
<text x="307.5" y="616" font-size="35" textLength="327" lengthAdjust="spacingAndGlyphs" stroke="#000" stroke-width="0.6">Atrioventricular node</text>
<text x="603.5" y="781" font-size="35" textLength="163" lengthAdjust="spacingAndGlyphs" stroke="#000" stroke-width="0.6">His bundle</text>
<text x="593.5" y="852.5" font-size="35" textLength="318" lengthAdjust="spacingAndGlyphs" stroke="#000" stroke-width="0.6">Right bundle branch</text>
<text x="899" y="664" font-size="35.5" textLength="294" lengthAdjust="spacingAndGlyphs" stroke="#000" stroke-width="0.6">Left bundle branch</text>
<text x="636" y="973" font-size="35" textLength="224" lengthAdjust="spacingAndGlyphs" stroke="#000" stroke-width="0.6">Purkinje fibers</text>
<text x="961.5" y="791" font-size="35" textLength="244" lengthAdjust="spacingAndGlyphs" stroke="#000" stroke-width="0.6">Anterior branch</text>
<text x="924" y="934" font-size="35" textLength="260" lengthAdjust="spacingAndGlyphs" stroke="#000" stroke-width="0.6">Posterior branch</text>
<text x="94.5" y="1252" font-size="46" textLength="149" lengthAdjust="spacingAndGlyphs" stroke="#000" stroke-width="0.6">Normal</text>
<text x="94" y="1311" font-size="46" textLength="237" lengthAdjust="spacingAndGlyphs" stroke="#000" stroke-width="0.6">Conduction</text>
<text x="821" y="1256" font-size="47" textLength="263" lengthAdjust="spacingAndGlyphs" stroke="#000" stroke-width="0.6">Right bundle</text>
<text x="821" y="1312.5" font-size="47" textLength="266" lengthAdjust="spacingAndGlyphs" stroke="#000" stroke-width="0.6">branch block</text>
<text x="234.5" y="1454.5" font-size="42" textLength="44" lengthAdjust="spacingAndGlyphs" stroke="#000" stroke-width="0.6">V1</text>
<text x="897.5" y="1454" font-size="42" textLength="43" lengthAdjust="spacingAndGlyphs" stroke="#000" stroke-width="0.6">V1</text>
<path d="M958.7 767.7 Q943 781.5 958.7 795.4" fill="none" stroke="#000" stroke-width="1.8" stroke-linecap="round" stroke-linejoin="round" />
<path d="M1217.6 766.6 Q1233 782 1218.7 797.6" fill="none" stroke="#000" stroke-width="1.8" stroke-linecap="round" stroke-linejoin="round" />
<path d="M917.7 908.25 Q903 922 918.8 936" fill="none" stroke="#000" stroke-width="1.8" stroke-linecap="round" stroke-linejoin="round" />
<path d="M1187.7 907.2 Q1203 922.6 1188.8 938" fill="none" stroke="#000" stroke-width="1.8" stroke-linecap="round" stroke-linejoin="round" />
<text x="900" y="1372" font-size="46" stroke="#000" stroke-width="0">(</text>
<text x="983" y="1372" font-size="46" stroke="#000" stroke-width="0">)</text>
</svg>
</body></html>
